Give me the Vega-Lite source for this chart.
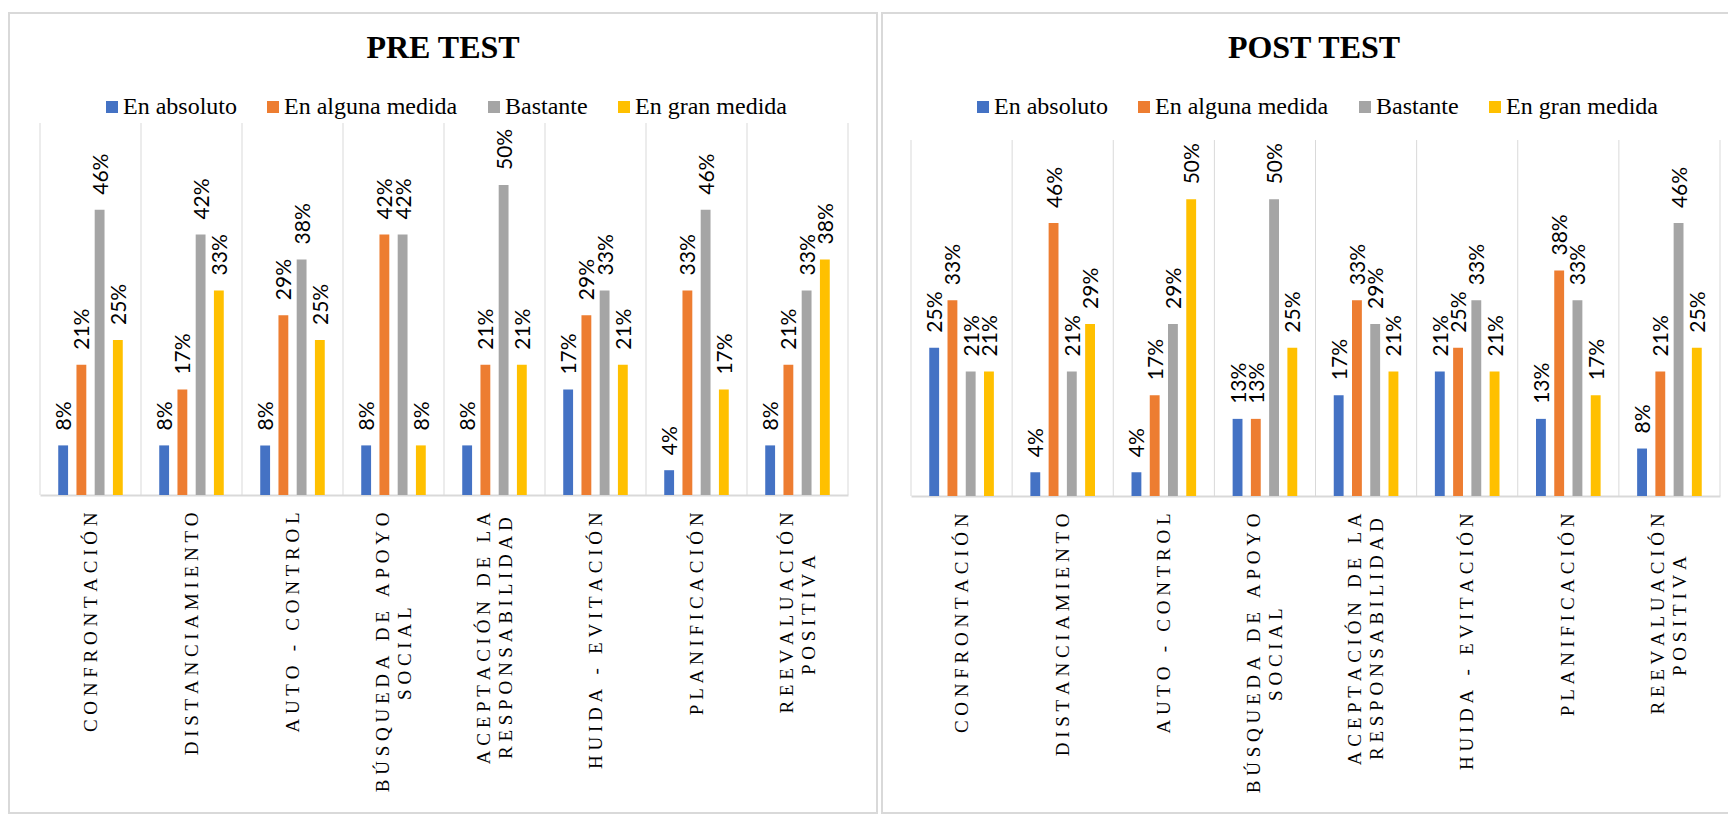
{
  "$schema": "https://vega.github.io/schema/vega-lite/v6.json",
  "padding": {"left": 8, "top": 12, "right": 0, "bottom": 0},
  "background": "white",
  "spacing": 3,
  "data": {
    "values": [
      {"prueba": "PRE TEST", "estrategia": "CONFRONTACIÓN", "nivel": "En absoluto", "valor": 0.08},
      {"prueba": "PRE TEST", "estrategia": "CONFRONTACIÓN", "nivel": "En alguna medida", "valor": 0.21},
      {"prueba": "PRE TEST", "estrategia": "CONFRONTACIÓN", "nivel": "Bastante", "valor": 0.46},
      {"prueba": "PRE TEST", "estrategia": "CONFRONTACIÓN", "nivel": "En gran medida", "valor": 0.25},
      {"prueba": "PRE TEST", "estrategia": "DISTANCIAMIENTO", "nivel": "En absoluto", "valor": 0.08},
      {"prueba": "PRE TEST", "estrategia": "DISTANCIAMIENTO", "nivel": "En alguna medida", "valor": 0.17},
      {"prueba": "PRE TEST", "estrategia": "DISTANCIAMIENTO", "nivel": "Bastante", "valor": 0.42},
      {"prueba": "PRE TEST", "estrategia": "DISTANCIAMIENTO", "nivel": "En gran medida", "valor": 0.33},
      {"prueba": "PRE TEST", "estrategia": "AUTO - CONTROL", "nivel": "En absoluto", "valor": 0.08},
      {"prueba": "PRE TEST", "estrategia": "AUTO - CONTROL", "nivel": "En alguna medida", "valor": 0.29},
      {"prueba": "PRE TEST", "estrategia": "AUTO - CONTROL", "nivel": "Bastante", "valor": 0.38},
      {"prueba": "PRE TEST", "estrategia": "AUTO - CONTROL", "nivel": "En gran medida", "valor": 0.25},
      {"prueba": "PRE TEST", "estrategia": "BÚSQUEDA DE APOYO SOCIAL", "nivel": "En absoluto", "valor": 0.08},
      {"prueba": "PRE TEST", "estrategia": "BÚSQUEDA DE APOYO SOCIAL", "nivel": "En alguna medida", "valor": 0.42},
      {"prueba": "PRE TEST", "estrategia": "BÚSQUEDA DE APOYO SOCIAL", "nivel": "Bastante", "valor": 0.42},
      {"prueba": "PRE TEST", "estrategia": "BÚSQUEDA DE APOYO SOCIAL", "nivel": "En gran medida", "valor": 0.08},
      {"prueba": "PRE TEST", "estrategia": "ACEPTACIÓN DE LA RESPONSABILIDAD", "nivel": "En absoluto", "valor": 0.08},
      {"prueba": "PRE TEST", "estrategia": "ACEPTACIÓN DE LA RESPONSABILIDAD", "nivel": "En alguna medida", "valor": 0.21},
      {"prueba": "PRE TEST", "estrategia": "ACEPTACIÓN DE LA RESPONSABILIDAD", "nivel": "Bastante", "valor": 0.50},
      {"prueba": "PRE TEST", "estrategia": "ACEPTACIÓN DE LA RESPONSABILIDAD", "nivel": "En gran medida", "valor": 0.21},
      {"prueba": "PRE TEST", "estrategia": "HUIDA - EVITACIÓN", "nivel": "En absoluto", "valor": 0.17},
      {"prueba": "PRE TEST", "estrategia": "HUIDA - EVITACIÓN", "nivel": "En alguna medida", "valor": 0.29},
      {"prueba": "PRE TEST", "estrategia": "HUIDA - EVITACIÓN", "nivel": "Bastante", "valor": 0.33},
      {"prueba": "PRE TEST", "estrategia": "HUIDA - EVITACIÓN", "nivel": "En gran medida", "valor": 0.21},
      {"prueba": "PRE TEST", "estrategia": "PLANIFICACIÓN", "nivel": "En absoluto", "valor": 0.04},
      {"prueba": "PRE TEST", "estrategia": "PLANIFICACIÓN", "nivel": "En alguna medida", "valor": 0.33},
      {"prueba": "PRE TEST", "estrategia": "PLANIFICACIÓN", "nivel": "Bastante", "valor": 0.46},
      {"prueba": "PRE TEST", "estrategia": "PLANIFICACIÓN", "nivel": "En gran medida", "valor": 0.17},
      {"prueba": "PRE TEST", "estrategia": "REEVALUACIÓN POSITIVA", "nivel": "En absoluto", "valor": 0.08},
      {"prueba": "PRE TEST", "estrategia": "REEVALUACIÓN POSITIVA", "nivel": "En alguna medida", "valor": 0.21},
      {"prueba": "PRE TEST", "estrategia": "REEVALUACIÓN POSITIVA", "nivel": "Bastante", "valor": 0.33},
      {"prueba": "PRE TEST", "estrategia": "REEVALUACIÓN POSITIVA", "nivel": "En gran medida", "valor": 0.38},
      {"prueba": "POST TEST", "estrategia": "CONFRONTACIÓN", "nivel": "En absoluto", "valor": 0.25},
      {"prueba": "POST TEST", "estrategia": "CONFRONTACIÓN", "nivel": "En alguna medida", "valor": 0.33},
      {"prueba": "POST TEST", "estrategia": "CONFRONTACIÓN", "nivel": "Bastante", "valor": 0.21},
      {"prueba": "POST TEST", "estrategia": "CONFRONTACIÓN", "nivel": "En gran medida", "valor": 0.21},
      {"prueba": "POST TEST", "estrategia": "DISTANCIAMIENTO", "nivel": "En absoluto", "valor": 0.04},
      {"prueba": "POST TEST", "estrategia": "DISTANCIAMIENTO", "nivel": "En alguna medida", "valor": 0.46},
      {"prueba": "POST TEST", "estrategia": "DISTANCIAMIENTO", "nivel": "Bastante", "valor": 0.21},
      {"prueba": "POST TEST", "estrategia": "DISTANCIAMIENTO", "nivel": "En gran medida", "valor": 0.29},
      {"prueba": "POST TEST", "estrategia": "AUTO - CONTROL", "nivel": "En absoluto", "valor": 0.04},
      {"prueba": "POST TEST", "estrategia": "AUTO - CONTROL", "nivel": "En alguna medida", "valor": 0.17},
      {"prueba": "POST TEST", "estrategia": "AUTO - CONTROL", "nivel": "Bastante", "valor": 0.29},
      {"prueba": "POST TEST", "estrategia": "AUTO - CONTROL", "nivel": "En gran medida", "valor": 0.50},
      {"prueba": "POST TEST", "estrategia": "BÚSQUEDA DE APOYO SOCIAL", "nivel": "En absoluto", "valor": 0.13},
      {"prueba": "POST TEST", "estrategia": "BÚSQUEDA DE APOYO SOCIAL", "nivel": "En alguna medida", "valor": 0.13},
      {"prueba": "POST TEST", "estrategia": "BÚSQUEDA DE APOYO SOCIAL", "nivel": "Bastante", "valor": 0.50},
      {"prueba": "POST TEST", "estrategia": "BÚSQUEDA DE APOYO SOCIAL", "nivel": "En gran medida", "valor": 0.25},
      {"prueba": "POST TEST", "estrategia": "ACEPTACIÓN DE LA RESPONSABILIDAD", "nivel": "En absoluto", "valor": 0.17},
      {"prueba": "POST TEST", "estrategia": "ACEPTACIÓN DE LA RESPONSABILIDAD", "nivel": "En alguna medida", "valor": 0.33},
      {"prueba": "POST TEST", "estrategia": "ACEPTACIÓN DE LA RESPONSABILIDAD", "nivel": "Bastante", "valor": 0.29},
      {"prueba": "POST TEST", "estrategia": "ACEPTACIÓN DE LA RESPONSABILIDAD", "nivel": "En gran medida", "valor": 0.21},
      {"prueba": "POST TEST", "estrategia": "HUIDA - EVITACIÓN", "nivel": "En absoluto", "valor": 0.21},
      {"prueba": "POST TEST", "estrategia": "HUIDA - EVITACIÓN", "nivel": "En alguna medida", "valor": 0.25},
      {"prueba": "POST TEST", "estrategia": "HUIDA - EVITACIÓN", "nivel": "Bastante", "valor": 0.33},
      {"prueba": "POST TEST", "estrategia": "HUIDA - EVITACIÓN", "nivel": "En gran medida", "valor": 0.21},
      {"prueba": "POST TEST", "estrategia": "PLANIFICACIÓN", "nivel": "En absoluto", "valor": 0.13},
      {"prueba": "POST TEST", "estrategia": "PLANIFICACIÓN", "nivel": "En alguna medida", "valor": 0.38},
      {"prueba": "POST TEST", "estrategia": "PLANIFICACIÓN", "nivel": "Bastante", "valor": 0.33},
      {"prueba": "POST TEST", "estrategia": "PLANIFICACIÓN", "nivel": "En gran medida", "valor": 0.17},
      {"prueba": "POST TEST", "estrategia": "REEVALUACIÓN POSITIVA", "nivel": "En absoluto", "valor": 0.08},
      {"prueba": "POST TEST", "estrategia": "REEVALUACIÓN POSITIVA", "nivel": "En alguna medida", "valor": 0.21},
      {"prueba": "POST TEST", "estrategia": "REEVALUACIÓN POSITIVA", "nivel": "Bastante", "valor": 0.46},
      {"prueba": "POST TEST", "estrategia": "REEVALUACIÓN POSITIVA", "nivel": "En gran medida", "valor": 0.25}
    ]
  },
  "hconcat": [
    {
      "width": 868,
      "height": 800,
      "title": {"text": "PRE TEST", "font": "Liberation Serif", "fontSize": 32, "fontWeight": "bold", "color": "#000000", "anchor": "middle", "baseline": "alphabetic", "offset": -77},
      "transform": [{"filter": "datum.prueba == 'PRE TEST'"}],
      "layer": [
        {
          "transform": [{"filter": "datum.nivel == 'En absoluto'"}],
          "mark": {"type": "rule", "color": "#d9d9d9", "strokeWidth": 1},
          "encoding": {
            "x": {"field": "estrategia", "type": "nominal", "bandPosition": 0,
                  "scale": {"domain": ["CONFRONTACIÓN", "DISTANCIAMIENTO", "AUTO - CONTROL", "BÚSQUEDA DE APOYO SOCIAL", "ACEPTACIÓN DE LA RESPONSABILIDAD", "HUIDA - EVITACIÓN", "PLANIFICACIÓN", "REEVALUACIÓN POSITIVA"], "range": [31, 839], "paddingInner": 0, "paddingOuter": 0}},
            "y": {"datum": 0, "type": "quantitative", "axis": null, "scale": {"domain": [0, 0.6], "range": [482, 110], "nice": false}},
            "y2": {"datum": 0.6}
          }
        },
        {
          "transform": [{"filter": "datum.nivel == 'En absoluto' && datum.estrategia == 'REEVALUACIÓN POSITIVA'"}],
          "mark": {"type": "rule", "color": "#d9d9d9", "strokeWidth": 1},
          "encoding": {
            "x": {"field": "estrategia", "type": "nominal", "bandPosition": 1},
            "y": {"datum": 0, "type": "quantitative", "axis": null},
            "y2": {"datum": 0.6}
          }
        },
        {
          "mark": {"type": "bar"},
          "encoding": {
            "x": {
              "field": "estrategia", "type": "nominal",
              "axis": {
                "title": null, "ticks": false, "grid": false, "bandPosition": 0.5,
                "domain": true, "domainColor": "#d9d9d9", "domainWidth": 2,
                "offset": -318,
                "labelAngle": 270, "labelAlign": "right", "labelPadding": 17,
                "labelBaseline": {"condition": {"test": "indexof(datum.value,'-') < 0 && indexof(datum.value,' ') > 0", "value": "line-bottom"}, "value": "middle"},
                "labelFont": "Liberation Serif", "labelFontSize": 19, "labelColor": "#000000",
                "labelLimit": 400, "labelOverlap": false, "labelLineHeight": 22,
                "labelExpr": "datum.label == 'BÚSQUEDA DE APOYO SOCIAL' ? [join(split('BÚSQUEDA DE APOYO', ''), '\u00a0'), join(split('SOCIAL', ''), '\u00a0') + '\u00a0\u00a0\u00a0\u00a0\u00a0\u00a0\u00a0\u00a0\u00a0\u00a0\u00a0\u00a0\u00a0\u00a0\u00a0\u00a0\u00a0\u00a0\u00a0\u00a0\u2060'] : datum.label == 'ACEPTACIÓN DE LA RESPONSABILIDAD' ? [join(split('ACEPTACIÓN DE LA', ''), '\u00a0'), join(split('RESPONSABILIDAD', ''), '\u00a0') + '\u00a0\u2060'] : datum.label == 'REEVALUACIÓN POSITIVA' ? [join(split('REEVALUACIÓN', ''), '\u00a0'), join(split('POSITIVA', ''), '\u00a0') + '\u00a0\u00a0\u00a0\u00a0\u00a0\u00a0\u00a0\u00a0\u00a0\u2060'] : join(split(datum.label, ''), '\u00a0')"
              }
            },
            "xOffset": {"field": "nivel", "type": "nominal", "scale": {"domain": ["En absoluto", "En alguna medida", "Bastante", "En gran medida"], "paddingInner": 0.46, "paddingOuter": 1.165}},
            "y": {"field": "valor", "type": "quantitative", "axis": null},
            "color": {
              "field": "nivel", "type": "nominal",
              "scale": {"domain": ["En absoluto", "En alguna medida", "Bastante", "En gran medida"], "range": ["#4472C4", "#ED7D31", "#A5A5A5", "#FFC000"]},
              "legend": {"orient": "none", "legendX": 91, "legendY": 82, "direction": "horizontal", "columns": 4, "title": null, "symbolType": "square", "symbolSize": 144, "symbolStrokeWidth": 0, "labelFont": "Liberation Serif", "labelFontSize": 24, "labelColor": "#000000", "labelOffset": -1, "columnPadding": 24, "padding": 0, "labelLimit": 0}
            }
          }
        },
        {
          "mark": {"type": "text", "angle": 270, "align": "left", "baseline": "middle", "dx": 15, "dy": 2, "font": "Lato", "fontSize": 21, "color": "#000000"},
          "encoding": {
            "x": {"field": "estrategia", "type": "nominal"},
            "xOffset": {"field": "nivel", "type": "nominal"},
            "y": {"field": "valor", "type": "quantitative", "axis": null},
            "text": {"field": "valor", "type": "quantitative", "format": ".0%"}
          }
        }
      ]
    },
    {
      "width": 848,
      "height": 800,
      "title": {"text": "POST TEST", "font": "Liberation Serif", "fontSize": 32, "fontWeight": "bold", "color": "#000000", "anchor": "middle", "baseline": "alphabetic", "offset": -77, "dx": 8},
      "transform": [{"filter": "datum.prueba == 'POST TEST'"}],
      "layer": [
        {
          "transform": [{"filter": "datum.nivel == 'En absoluto'"}],
          "mark": {"type": "rule", "color": "#d9d9d9", "strokeWidth": 1},
          "encoding": {
            "x": {"field": "estrategia", "type": "nominal", "bandPosition": 0,
                  "scale": {"domain": ["CONFRONTACIÓN", "DISTANCIAMIENTO", "AUTO - CONTROL", "BÚSQUEDA DE APOYO SOCIAL", "ACEPTACIÓN DE LA RESPONSABILIDAD", "HUIDA - EVITACIÓN", "PLANIFICACIÓN", "REEVALUACIÓN POSITIVA"], "range": [29, 838], "paddingInner": 0, "paddingOuter": 0}},
            "y": {"datum": 0, "type": "quantitative", "axis": null, "scale": {"domain": [0, 0.6], "range": [483, 127], "nice": false}},
            "y2": {"datum": 0.6}
          }
        },
        {
          "transform": [{"filter": "datum.nivel == 'En absoluto' && datum.estrategia == 'REEVALUACIÓN POSITIVA'"}],
          "mark": {"type": "rule", "color": "#d9d9d9", "strokeWidth": 1},
          "encoding": {
            "x": {"field": "estrategia", "type": "nominal", "bandPosition": 1},
            "y": {"datum": 0, "type": "quantitative", "axis": null},
            "y2": {"datum": 0.6}
          }
        },
        {
          "mark": {"type": "bar"},
          "encoding": {
            "x": {
              "field": "estrategia", "type": "nominal",
              "axis": {
                "title": null, "ticks": false, "grid": false, "bandPosition": 0.5,
                "domain": true, "domainColor": "#d9d9d9", "domainWidth": 2,
                "offset": -317,
                "labelAngle": 270, "labelAlign": "right", "labelPadding": 17,
                "labelBaseline": {"condition": {"test": "indexof(datum.value,'-') < 0 && indexof(datum.value,' ') > 0", "value": "line-bottom"}, "value": "middle"},
                "labelFont": "Liberation Serif", "labelFontSize": 19, "labelColor": "#000000",
                "labelLimit": 400, "labelOverlap": false, "labelLineHeight": 22,
                "labelExpr": "datum.label == 'BÚSQUEDA DE APOYO SOCIAL' ? [join(split('BÚSQUEDA DE APOYO', ''), '\u00a0'), join(split('SOCIAL', ''), '\u00a0') + '\u00a0\u00a0\u00a0\u00a0\u00a0\u00a0\u00a0\u00a0\u00a0\u00a0\u00a0\u00a0\u00a0\u00a0\u00a0\u00a0\u00a0\u00a0\u00a0\u00a0\u2060'] : datum.label == 'ACEPTACIÓN DE LA RESPONSABILIDAD' ? [join(split('ACEPTACIÓN DE LA', ''), '\u00a0'), join(split('RESPONSABILIDAD', ''), '\u00a0') + '\u00a0\u2060'] : datum.label == 'REEVALUACIÓN POSITIVA' ? [join(split('REEVALUACIÓN', ''), '\u00a0'), join(split('POSITIVA', ''), '\u00a0') + '\u00a0\u00a0\u00a0\u00a0\u00a0\u00a0\u00a0\u00a0\u00a0\u2060'] : join(split(datum.label, ''), '\u00a0')"
              }
            },
            "xOffset": {"field": "nivel", "type": "nominal", "scale": {"domain": ["En absoluto", "En alguna medida", "Bastante", "En gran medida"], "paddingInner": 0.46, "paddingOuter": 1.165}},
            "y": {"field": "valor", "type": "quantitative", "axis": null},
            "color": {
              "field": "nivel", "type": "nominal",
              "scale": {"domain": ["En absoluto", "En alguna medida", "Bastante", "En gran medida"], "range": ["#4472C4", "#ED7D31", "#A5A5A5", "#FFC000"]},
              "legend": {"orient": "none", "legendX": 89, "legendY": 82, "direction": "horizontal", "columns": 4, "title": null, "symbolType": "square", "symbolSize": 144, "symbolStrokeWidth": 0, "labelFont": "Liberation Serif", "labelFontSize": 24, "labelColor": "#000000", "labelOffset": -1, "columnPadding": 24, "padding": 0, "labelLimit": 0}
            }
          }
        },
        {
          "mark": {"type": "text", "angle": 270, "align": "left", "baseline": "middle", "dx": 15, "dy": 2, "font": "Lato", "fontSize": 21, "color": "#000000"},
          "encoding": {
            "x": {"field": "estrategia", "type": "nominal"},
            "xOffset": {"field": "nivel", "type": "nominal"},
            "y": {"field": "valor", "type": "quantitative", "axis": null},
            "text": {"field": "valor", "type": "quantitative", "format": ".0%"}
          }
        }
      ]
    }
  ],
  "resolve": {
    "scale": {"x": "independent", "y": "independent", "xOffset": "independent", "color": "independent"},
    "legend": {"color": "independent"}
  },
  "config": {
    "view": {"stroke": "#d9d9d9", "strokeWidth": 2},
    "font": "Liberation Serif"
  }
}
